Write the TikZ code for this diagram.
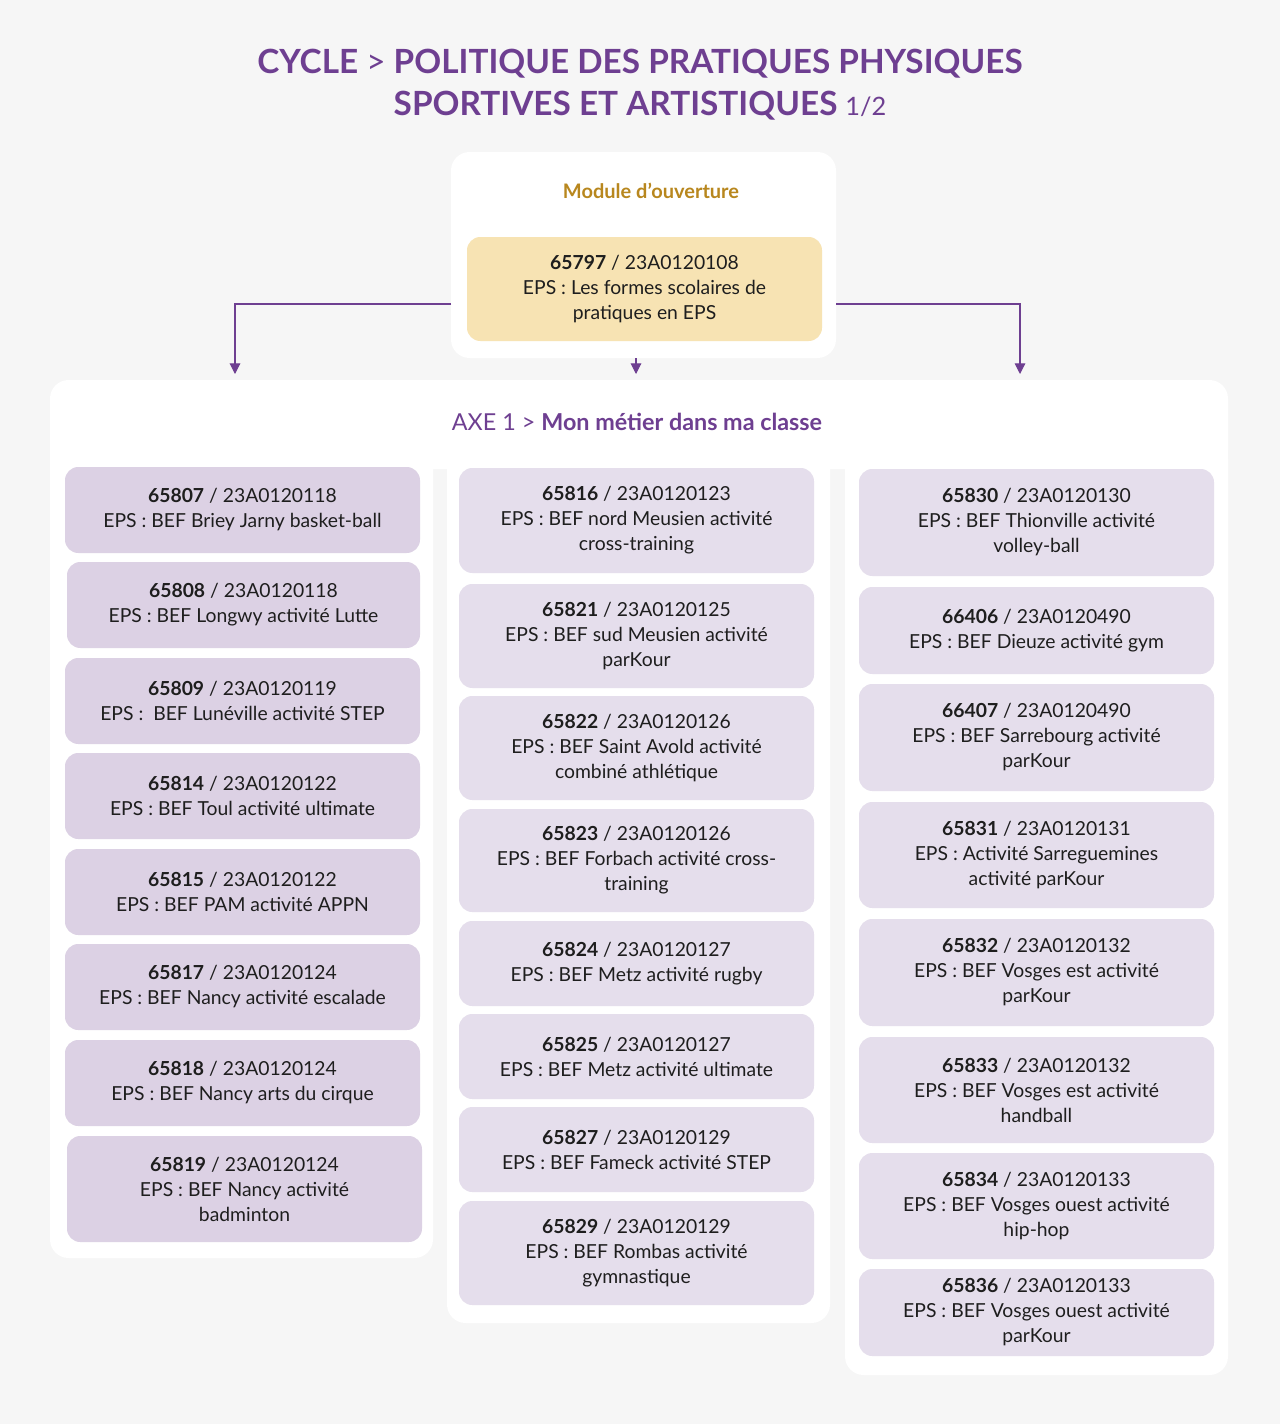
\documentclass[tikz,border=0pt]{standalone}
\usepackage{fontspec}
\setmainfont{Lato}
\usetikzlibrary{arrows.meta}
\definecolor{bg}{HTML}{F6F6F6}
\definecolor{purp}{HTML}{6E3F91}
\definecolor{gold}{HTML}{B8871E}
\definecolor{yel}{HTML}{F7E3B3}
\definecolor{lilA}{HTML}{DCD1E4}
\definecolor{lilB}{HTML}{E5DEEC}
\definecolor{txt}{HTML}{1E1E1E}
\tikzset{
 panel/.style={fill=white,draw=none,rounded corners=14},
 card/.style={draw=none,rounded corners=10},
 cardtext/.style={align=center,text=txt,font=\fontsize{14.5}{18.75}\selectfont},
 conn/.style={draw=purp,line width=0.8pt,-{Triangle[length=8pt,width=8pt]}}
}
\newcommand{\crd}[7]{% name,x1,y1,x2,y2,color,text
 \fill[card,#6] (#2,#3) rectangle (#4,#5);
 \node[cardtext] (#1) at ({(#2+#4)/2},{(#3+#5)/2}) {#7};}
\begin{document}
\begin{tikzpicture}[x=0.75pt,y=-0.75pt]
\fill[bg] (0,0) rectangle (1280,1424);
\useasboundingbox (0,0) rectangle (1280,1424);
\node[text=purp,align=center,font=\fontsize{25}{31.5}\selectfont\bfseries] (title) at (640,85)
 {CYCLE {\mdseries >} POLITIQUE DES PRATIQUES PHYSIQUES\\SPORTIVES ET ARTISTIQUES {\mdseries\fontsize{19}{20}\selectfont 1/2}};
% module panel
\fill[panel] (451,152) rectangle (836,358);
\node[text=gold,font=\fontsize{15}{18}\selectfont\bfseries] (mod) at (651,191) {Module d’ouverture};
\crd{m}{467}{237}{822}{341}{yel}{\textbf{65797} / 23A0120108\\EPS : Les formes scolaires de\\pratiques en EPS}
\coordinate (pl) at (451,304); \coordinate (pr) at (836,304);
\coordinate (ab) at (636,358);
\coordinate (tl) at (235,374); \coordinate (tm) at (636,374); \coordinate (tr) at (1020,374);
\draw[conn] (pl) -| (tl);
\draw[conn] (pr) -| (tr);
\draw[conn] (ab) -- (tm);
% axe panel
\fill[panel] (50,380) rectangle (1228,469);
\fill[panel] (50,440) rectangle (433,1258);
\fill[panel] (447,440) rectangle (830,1323);
\fill[panel] (845,440) rectangle (1228,1375);
\fill[white] (50,440) rectangle (1228,469);
\node[text=purp,font=\fontsize{17.5}{20}\selectfont] (axe) at (637,422) {AXE 1 > \textbf{Mon métier dans ma classe}};
% left
\crd{a1}{65}{467}{420}{553}{lilA}{\textbf{65807} / 23A0120118\\EPS : BEF Briey Jarny basket-ball}
\crd{a2}{67}{562}{420}{648}{lilA}{\textbf{65808} / 23A0120118\\EPS : BEF Longwy activité Lutte}
\crd{a3}{65}{658}{420}{744}{lilA}{\textbf{65809} / 23A0120119\\EPS :\ \ BEF Lunéville activité STEP}
\crd{a4}{65}{753}{420}{839}{lilA}{\textbf{65814} / 23A0120122\\EPS : BEF Toul activité ultimate}
\crd{a5}{65}{849}{420}{935}{lilA}{\textbf{65815} / 23A0120122\\EPS : BEF PAM activité APPN}
\crd{a6}{65}{944}{420}{1030}{lilA}{\textbf{65817} / 23A0120124\\EPS : BEF Nancy activité escalade}
\crd{a7}{65}{1040}{420}{1126}{lilA}{\textbf{65818} / 23A0120124\\EPS : BEF Nancy arts du cirque}
\crd{a8}{67}{1136}{422}{1242}{lilA}{\textbf{65819} / 23A0120124\\EPS : BEF Nancy activité\\badminton}
% middle
\crd{b1}{459}{468}{814}{573}{lilB}{\textbf{65816} / 23A0120123\\EPS : BEF nord Meusien activité\\cross-training}
\crd{b2}{459}{584}{814}{688}{lilB}{\textbf{65821} / 23A0120125\\EPS : BEF sud Meusien activité\\parKour}
\crd{b3}{459}{696}{814}{800}{lilB}{\textbf{65822} / 23A0120126\\EPS : BEF Saint Avold activité\\combiné athlétique}
\crd{b4}{459}{809}{814}{912}{lilB}{\textbf{65823} / 23A0120126\\EPS : BEF Forbach activité cross-\\training}
\crd{b5}{459}{921}{814}{1006}{lilB}{\textbf{65824} / 23A0120127\\EPS : BEF Metz activité rugby}
\crd{b6}{459}{1014}{814}{1099}{lilB}{\textbf{65825} / 23A0120127\\EPS : BEF Metz activité ultimate}
\crd{b7}{459}{1107}{814}{1192}{lilB}{\textbf{65827} / 23A0120129\\EPS : BEF Fameck activité STEP}
\crd{b8}{459}{1201}{814}{1305}{lilB}{\textbf{65829} / 23A0120129\\EPS : BEF Rombas activité\\gymnastique}
% right
\crd{c1}{859}{469}{1214}{576}{lilB}{\textbf{65830} / 23A0120130\\EPS : BEF Thionville activité\\volley-ball}
\crd{c2}{859}{587}{1214}{674}{lilB}{\textbf{66406} / 23A0120490\\EPS : BEF Dieuze activité gym}
\crd{c3}{859}{684}{1214}{791}{lilB}{\textbf{66407} / 23A0120490\\EPS : BEF Sarrebourg activité\\parKour}
\crd{c4}{859}{802}{1214}{908}{lilB}{\textbf{65831} / 23A0120131\\EPS : Activité Sarreguemines\\activité parKour}
\crd{c5}{859}{919}{1214}{1026}{lilB}{\textbf{65832} / 23A0120132\\EPS : BEF Vosges est activité\\parKour}
\crd{c6}{859}{1037}{1214}{1143}{lilB}{\textbf{65833} / 23A0120132\\EPS : BEF Vosges est activité\\handball}
\crd{c7}{859}{1153}{1214}{1259}{lilB}{\textbf{65834} / 23A0120133\\EPS : BEF Vosges ouest activité\\hip-hop}
\crd{c8}{859}{1269}{1214}{1356}{lilB}{\textbf{65836} / 23A0120133\\EPS : BEF Vosges ouest activité\\parKour}
\end{tikzpicture}
\end{document}
